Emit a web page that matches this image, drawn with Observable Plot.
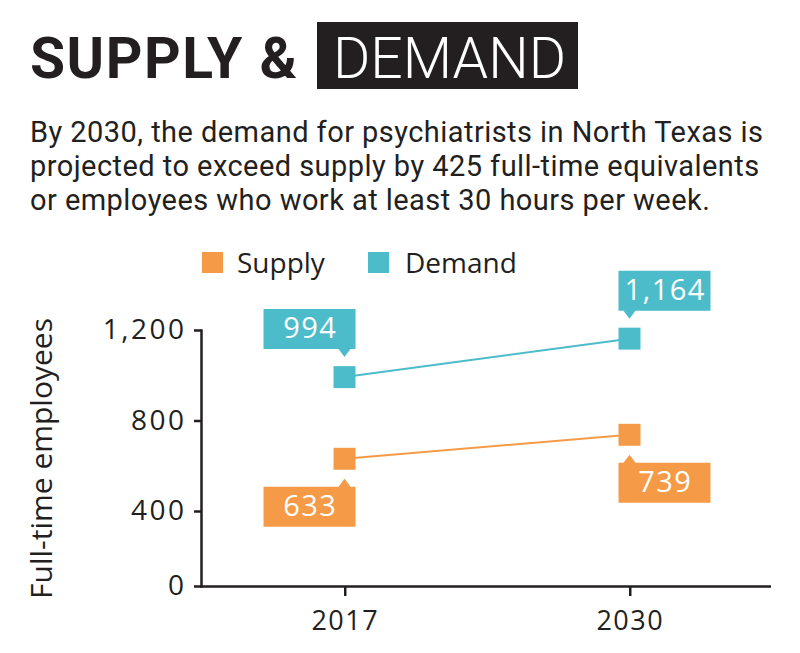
<!DOCTYPE html>
<html><head><meta charset="utf-8">
<script src="https://cdn.jsdelivr.net/npm/d3@7"></script>
<script src="https://cdn.jsdelivr.net/npm/@observablehq/plot@0.6"></script>
<style>
body{margin:0;background:#fff;}
#wrap{position:relative;width:800px;height:653px;overflow:hidden;font-family:"Open Sans",sans-serif;color:#231f20;}
.abs{position:absolute;white-space:nowrap;}
.yax text{letter-spacing:2.5px;}
.xax text{letter-spacing:1.5px;}
.clab text{letter-spacing:1.5px;}
</style></head><body>
<div id="wrap">
  <div class="abs" style="left:30px;top:30px;font:700 57px/57px Roboto;letter-spacing:1.5px;">SUPPLY &amp;</div>
  <div class="abs" style="left:317px;top:22px;width:261px;height:67px;background:#231f20;"></div>
  <div class="abs" style="left:333px;top:30px;font:300 57px/57px Roboto;color:#fff;">DEMAND</div>
  <div class="abs" id="sub" style="left:30px;top:115px;font:400 29px/34px Roboto;letter-spacing:0.45px;"></div>
  <div id="chart" class="abs" style="left:0;top:240px;"></div>
  <div id="legend" class="abs" style="left:0;top:0;"></div>
</div>
<script>
const years = ["2017", "2030"];
const supply = [633, 739];
const demand = [994, 1164];
const seriesNames = ["Supply", "Demand"];
const seriesColors = ["#f59b47", "#4dbcca"];
const yTicks = [0, 400, 800, 1200];
const yLabel = "Full-time employees";
const subtitleLines = [
  "By 2030, the demand for psychiatrists in North Texas is",
  "projected to exceed supply by 425 full-time equivalents",
  "or employees who work at least 30 hours per week."
];

document.getElementById("sub").innerHTML = subtitleLines.join("<br>");

// legend
const legendPos = [[202, 237], [368, 405]];
const lg = document.getElementById("legend");
seriesNames.forEach((s, i) => {
  const sw = document.createElement("div");
  sw.className = "abs";
  sw.style.cssText = `left:${legendPos[i][0]}px;top:252px;width:21px;height:21px;background:${seriesColors[i]};`;
  lg.appendChild(sw);
  const tx = document.createElement("div");
  tx.className = "abs";
  tx.style.cssText = `left:${legendPos[i][1]}px;top:248px;font:400 28px/28px "Open Sans";color:#231f20;`;
  tx.textContent = s;
  lg.appendChild(tx);
});

const rows = [];
years.forEach((yr, i) => {
  rows.push({year: yr, series: "Supply", value: supply[i], side: i === 0 ? "left" : "right", dir: "down"});
  rows.push({year: yr, series: "Demand", value: demand[i], side: i === 0 ? "left" : "right", dir: "up"});
});

const fmt = d3.format(",");
const BW = 92, BH = 40, NEAR = 28, TIP = 20, HALF = 6;
function boxX0(side) { return side === "left" ? -81 : -11; }
function callout(side, dir) {
  const x0 = boxX0(side);
  const s = dir === "up" ? -1 : 1;
  return {
    draw(ctx) {
      const yN = s * NEAR, yF = s * (NEAR + BH);
      ctx.moveTo(x0, yN);
      ctx.lineTo(-HALF, yN);
      ctx.lineTo(0, s * TIP);
      ctx.lineTo(HALF, yN);
      ctx.lineTo(x0 + BW, yN);
      ctx.lineTo(x0 + BW, yF);
      ctx.lineTo(x0, yF);
      ctx.closePath();
    }
  };
}

const calloutMarks = [];
for (const side of ["left", "right"]) {
  for (const dir of ["up", "down"]) {
    const sub = rows.filter(d => d.side === side && d.dir === dir);
    const s = dir === "up" ? -1 : 1;
    calloutMarks.push(
      Plot.dot(sub, {x: "year", y: "value", fill: "series", symbol: callout(side, dir), r: 10, stroke: null}),
      Plot.text(sub, {x: "year", y: "value", text: d => fmt(d.value), fill: "#fff", className: "clab",
        dx: boxX0(side) + BW / 2 + 0.75, dy: s * (NEAR + BH / 2), fontSize: 29, fontFamily: "Open Sans"})
    );
  }
}

const chart = Plot.plot({
  width: 800,
  height: 413,
  marginLeft: 201,
  marginRight: 29,
  marginTop: 90,
  marginBottom: 67,
  style: {fontFamily: "Open Sans", color: "#231f20", background: "transparent", overflow: "visible"},
  x: {type: "point", domain: years, padding: 0.5},
  y: {type: "linear", domain: [0, 400, 1200], range: [346, 271, 90]},
  color: {domain: seriesNames, range: seriesColors},
  marks: [
    Plot.frame({anchor: "left", stroke: "#231f20", strokeWidth: 2.5}),
    Plot.ruleY([0], {stroke: "#231f20", strokeWidth: 2.5}),
    Plot.axisY({ticks: yTicks, tickSize: 7, tickPadding: 8, tickFormat: fmt, fontSize: 28, label: null, strokeWidth: 2.5, fill: "#231f20", stroke: "#231f20", className: "yax"}),
    Plot.axisX({tickSize: 10, tickPadding: 14, fontSize: 27, label: null, strokeWidth: 2.5, fill: "#231f20", stroke: "#231f20", className: "xax", dx: 0.75}),
    Plot.text([yLabel], {frameAnchor: "left", textAnchor: "middle", dx: -159, rotate: -90, fontSize: 30, fill: "#231f20", fontFamily: "Open Sans"}),
    Plot.line(rows, {x: "year", y: "value", z: "series", stroke: "series", strokeWidth: 2}),
    Plot.dot(rows, {x: "year", y: "value", fill: "series", symbol: "square", r: 12.4}),
    ...calloutMarks
  ]
});
document.getElementById("chart").appendChild(chart);
</script>
</body></html>
